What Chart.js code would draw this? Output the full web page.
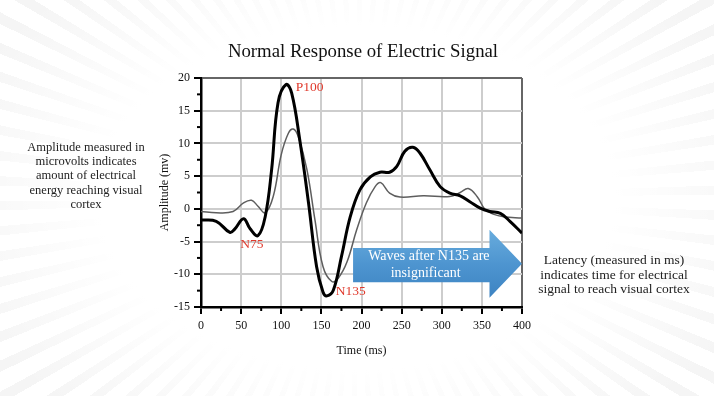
<!DOCTYPE html>
<html>
<head>
<meta charset="utf-8">
<script src="https://cdn.jsdelivr.net/npm/chart.js@4.4.1/dist/chart.umd.min.js"></script>
<style>
  html, body { margin:0; padding:0; }
  body {
    width:714px; height:396px; overflow:hidden; position:relative;
    background:
      radial-gradient(ellipse 60% 72% at 50% 50%, #ffffff 60%, rgba(255,255,255,0) 100%),
      repeating-conic-gradient(from 0deg at 50% 50%, #f5f5f5 0deg 1.5deg, #ffffff 1.5deg 4deg);
    font-family: "Liberation Serif", "DejaVu Serif", serif;
  }
  #wrap { position:absolute; left:0; top:0; width:714px; height:396px; }
  .note { position:absolute; text-align:center; color:#222; }
  #title { position:absolute; left:6px; width:714px; top:40px; text-align:center; font-size:18.8px; color:#111; }
</style>
</head>
<body>
<div id="wrap"><canvas id="c" width="714" height="396"></canvas></div>
<div id="title">Normal Response of Electric Signal</div>
<div class="note" style="left:8px; top:140px; width:156px; font-size:12.5px; line-height:14.2px;">Amplitude measured in<br>microvolts indicates<br>amount of electrical<br>energy reaching visual<br>cortex</div>
<div class="note" style="left:523px; top:253px; width:182px; font-size:13.5px; line-height:14.6px;">Latency (measured in ms)<br>indicates time for electrical<br>signal to reach visual cortex</div>
<script>
// ---- data ----
const timeA = [0, 19, 36, 42, 53, 61, 71, 80, 88, 96, 106, 113, 123, 134, 144, 152, 157, 165, 175, 186, 198, 211, 223, 235, 244, 254, 264, 273, 285, 298, 310, 323, 335, 348, 360, 373, 385, 400];
const ampA  = [-1.7, -1.9, -3.6, -3.1, -1.5, -3.0, -4.1, -1.2, 6.0, 16.2, 19.0, 17.7, 10.6, 0.9, -8.8, -12.7, -13.3, -12.4, -7.3, -1.2, 2.9, 4.9, 5.6, 5.6, 6.5, 8.8, 9.4, 8.5, 6.0, 3.4, 2.4, 2.0, 1.1, 0.1, -0.4, -0.7, -1.9, -3.7];
const timeB = [0, 19, 40, 53, 63, 71, 80, 90, 100, 109, 115, 121, 132, 142, 152, 163, 171, 182, 194, 206, 217, 224, 235, 248, 277, 310, 323, 333, 344, 354, 364, 377, 400];
const ampB  = [-0.4, -0.6, -0.4, 0.9, 1.3, 0.4, -0.6, 1.9, 8.3, 11.6, 12.2, 11.1, 6.0, -1.7, -8.8, -11.1, -10.6, -8.1, -3.2, 0.9, 3.4, 4.0, 2.4, 1.8, 2.0, 1.9, 2.5, 3.1, 1.9, -0.1, -0.8, -1.2, -1.4];
const xTicks = [0, 50, 100, 150, 200, 250, 300, 350, 400];
const yTicks = [-15, -10, -5, 0, 5, 10, 15, 20];
const peakLabels = ["P100", "N75", "N135"];
const peakTimes  = [118, 63.5, 168];
const peakAmps   = [18.5, -5.5, -12.7];
const arrowLines = ["Waves after N135 are", "insignificant"];

const serif = '"Liberation Serif", "DejaVu Serif", serif';
const toPts = (xs, ys) => xs.map((x, i) => ({x: x, y: ys[i]}));

const decorations = {
  id: 'decorations',
  afterDatasetsDraw(chart) {
    const {ctx, scales: {x, y}} = chart;
    ctx.save();
    // minor ticks
    ctx.strokeStyle = '#000'; ctx.lineWidth = 2;
    for (let v = -12.5; v < 20; v += 5) {
      const py = y.getPixelForValue(v);
      ctx.beginPath(); ctx.moveTo(chart.chartArea.left - 4, py); ctx.lineTo(chart.chartArea.left, py); ctx.stroke();
    }
    for (let v = 25; v < 400; v += 50) {
      const px = x.getPixelForValue(v);
      ctx.beginPath(); ctx.moveTo(px, chart.chartArea.bottom); ctx.lineTo(px, chart.chartArea.bottom + 4); ctx.stroke();
    }
    // peak labels
    ctx.fillStyle = '#e0392c';
    ctx.font = '13.5px ' + serif;
    ctx.textBaseline = 'middle';
    const aligns = ['left', 'center', 'left'];
    peakLabels.forEach((t, i) => {
      ctx.textAlign = aligns[i];
      ctx.fillText(t, x.getPixelForValue(peakTimes[i]), y.getPixelForValue(peakAmps[i]));
    });
    // arrow
    const X = v => x.getPixelForValue(v), Y = v => y.getPixelForValue(v);
    const bodyL = X(189.5), headB = X(359.5), tip = X(400);
    const bTop = Y(-6.0), bBot = Y(-11.2), hTop = Y(-3.2), hBot = Y(-13.6), tipY = Y(-8.4);
    const g = ctx.createLinearGradient(0, hTop, 0, hBot);
    g.addColorStop(0, '#68acdd');
    g.addColorStop(0.5, '#4e95d0');
    g.addColorStop(1, '#3d83c2');
    ctx.fillStyle = g;
    ctx.beginPath();
    ctx.moveTo(bodyL, bTop); ctx.lineTo(headB, bTop); ctx.lineTo(headB, hTop);
    ctx.lineTo(tip, tipY); ctx.lineTo(headB, hBot); ctx.lineTo(headB, bBot);
    ctx.lineTo(bodyL, bBot); ctx.closePath(); ctx.fill();
    ctx.fillStyle = '#ffffff';
    ctx.font = '14px ' + serif;
    ctx.textAlign = 'center';
    ctx.fillText(arrowLines[0], X(284), Y(-7.3));
    ctx.fillText(arrowLines[1], X(280), Y(-9.8));
    ctx.restore();
  }
};

new Chart(document.getElementById('c'), {
  type: 'line',
  data: {
    datasets: [
      { data: toPts(timeA, ampA), borderColor: '#000', borderWidth: 3, pointRadius: 0, tension: 0.4, fill: false },
      { data: toPts(timeB, ampB), borderColor: '#5e5e5e', borderWidth: 1.5, pointRadius: 0, tension: 0.4, fill: false }
    ]
  },
  options: {
    responsive: false,
    animation: false,
    events: [],
    layout: { padding: { left: 158, right: 192, top: 78, bottom: 38 } },
    plugins: { legend: { display: false }, tooltip: { enabled: false }, title: { display: false } },
    scales: {
      x: {
        type: 'linear', min: 0, max: 400,
        afterFit: s => { s.height = 51; },
        afterBuildTicks: s => { s.ticks = xTicks.map(v => ({value: v})); },
        ticks: { font: { family: serif, size: 12 }, color: '#111', padding: 5, maxRotation: 0 },
        grid: {
          color: c => (c.tick && c.tick.value === 400) ? '#666' : '#cdcdcd',
          lineWidth: 2, tickColor: '#000', tickLength: 7, tickWidth: 2
        },
        border: { color: '#000', width: 2.5 },
        title: { display: true, text: 'Time (ms)', font: { family: serif, size: 12 }, color: '#111', padding: 0 }
      },
      y: {
        type: 'linear', min: -15, max: 20,
        afterFit: s => { s.width = 43; },
        afterBuildTicks: s => { s.ticks = yTicks.map(v => ({value: v})); },
        ticks: { font: { family: serif, size: 12 }, color: '#111', padding: 4 },
        grid: {
          color: c => (c.tick && c.tick.value === 20) ? '#666' : '#cdcdcd',
          lineWidth: 2, tickColor: '#000', tickLength: 7, tickWidth: 2
        },
        border: { color: '#000', width: 2.5 },
        title: { display: true, text: 'Amplitude (mv)', font: { family: serif, size: 12 }, color: '#111', padding: 0 }
      }
    }
  },
  plugins: [decorations]
});
</script>
</body>
</html>
